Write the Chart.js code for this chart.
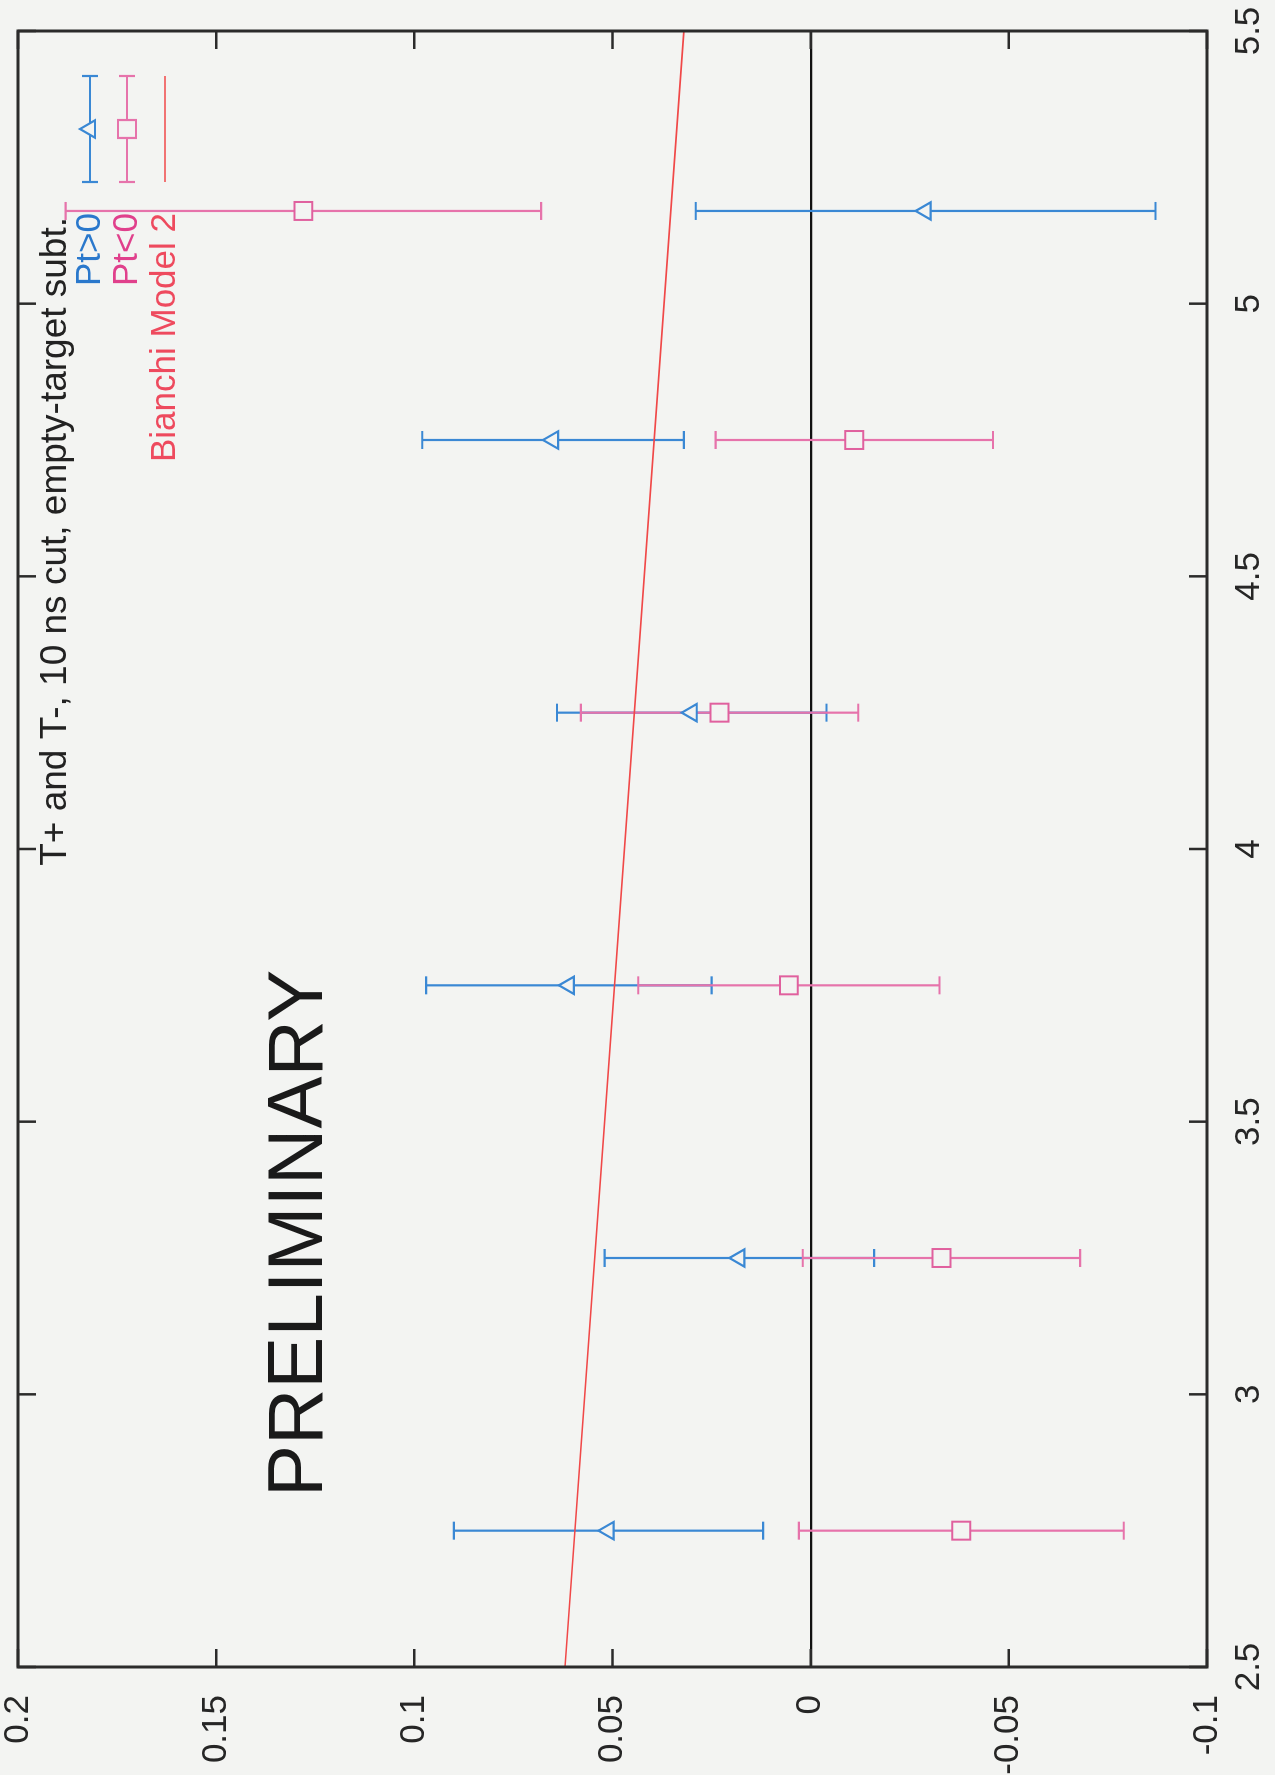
<!DOCTYPE html>
<html>
<head>
<meta charset="utf-8">
<script src="https://cdn.jsdelivr.net/npm/chart.js@4/dist/chart.umd.min.js"></script>
<style>
  html, body { margin: 0; padding: 0; width: 1275px; height: 1775px; overflow: hidden; background: #f3f4f2; }
  /* The plot is laid out landscape and turned a quarter turn to sit on the portrait page */
  #stage { position: absolute; left: 0; top: 0; width: 1775px; height: 1275px;
           transform-origin: 0 0; transform: translate(0, 1775px) rotate(-90deg); }
  canvas { display: block; }
</style>
</head>
<body>
<div id="stage"><canvas id="asym" width="1775" height="1275"></canvas></div>
<script>
// Bin centres along the horizontal axis
const binCentres = [2.75, 3.25, 3.75, 4.25, 4.75, 5.17];

// Asymmetry and statistical error, Pt > 0
const ptPosAsym = [0.051, 0.018, 0.061, 0.030, 0.065, -0.029];
const ptPosErr  = [0.039, 0.034, 0.036, 0.034, 0.033, 0.058];

// Asymmetry and statistical error, Pt < 0
const ptNegAsym = [-0.038, -0.033, 0.0055, 0.023, -0.011, 0.128];
const ptNegErr  = [0.041, 0.035, 0.038, 0.035, 0.035, 0.060];

// Model curve (straight line over the plotted range)
const modelX = [2.5, 5.5];
const modelY = [0.062, 0.032];

// Axis ticks
const xTickValues = [2.5, 3, 3.5, 4, 4.5, 5, 5.5];
const xTickLabels = ['2.5', '3', '3.5', '4', '4.5', '5', '5.5'];
const yTickValues = [-0.1, -0.05, 0, 0.05, 0.1, 0.15, 0.2];
const yTickLabels = ['-0.1', '-0.05', '0', '0.05', '0.1', '0.15', '0.2'];

const seriesNames = ['Pt>0', 'Pt<0', 'Bianchi Model 2'];
const keyTitle = 'T+ and T-, 10 ns cut, empty-target subt.';
const stampText = 'PRELIMINARY';

const FONT = "'Liberation Sans', Arial, Helvetica, sans-serif";
const BG = '#f3f4f2';
const BLUE = '#3a88d4';
const PINK = '#e673ab';
const RED = '#f04848';

function pts(xs, ys, errs) {
  return xs.map((x, i) => ({ x: x, y: ys[i], err: errs ? errs[i] : 0 }));
}

// Keep the plot box exactly where the layout padding puts it
function noScalePadding(s) {
  s.paddingTop = 0; s.paddingBottom = 0; s.paddingLeft = 0; s.paddingRight = 0;
}

// Vertical error bars with end caps, drawn under the markers
const errorBars = {
  id: 'errorBars',
  beforeDatasetsDraw(chart) {
    const { ctx, scales: { x, y } } = chart;
    ctx.save();
    chart.data.datasets.forEach(ds => {
      if (!ds.errorBars) return;
      ctx.strokeStyle = ds.barColor;
      ctx.lineWidth = 2.2;
      ds.data.forEach(p => {
        const px = x.getPixelForValue(p.x);
        const y1 = y.getPixelForValue(p.y + p.err);
        const y2 = y.getPixelForValue(p.y - p.err);
        ctx.beginPath();
        ctx.moveTo(px, y1); ctx.lineTo(px, y2);
        ctx.moveTo(px - 9, y1); ctx.lineTo(px + 9, y1);
        ctx.moveTo(px - 9, y2); ctx.lineTo(px + 9, y2);
        ctx.stroke();
      });
    });
    ctx.restore();
  }
};

// Border box with inward ticks on all four sides
const frameTicks = {
  id: 'frameTicks',
  afterDatasetsDraw(chart) {
    const { ctx, chartArea: a, scales: { x, y } } = chart;
    ctx.save();
    ctx.strokeStyle = '#2b2b2b';
    ctx.lineWidth = 2.5;
    const L = 18;
    ctx.beginPath();
    x.ticks.forEach(t => {
      const px = x.getPixelForValue(t.value);
      ctx.moveTo(px, a.bottom); ctx.lineTo(px, a.bottom - L);
      ctx.moveTo(px, a.top); ctx.lineTo(px, a.top + L);
    });
    y.ticks.forEach(t => {
      const py = y.getPixelForValue(t.value);
      ctx.moveTo(a.left, py); ctx.lineTo(a.left + L, py);
      ctx.moveTo(a.right, py); ctx.lineTo(a.right - L, py);
    });
    ctx.stroke();
    ctx.lineWidth = 3;
    ctx.strokeRect(a.left, a.top, a.right - a.left, a.bottom - a.top);
    ctx.restore();
  }
};

// Key block and the PRELIMINARY stamp
const keyAndStamp = {
  id: 'keyAndStamp',
  afterDraw(chart) {
    const { ctx } = chart;
    ctx.save();
    ctx.font = '78px ' + FONT;
    ctx.fillStyle = '#1a1a1a';
    ctx.textAlign = 'left';
    ctx.textBaseline = 'alphabetic';
    ctx.fillText(stampText, 278, 322);

    const textRight = 1558, s0 = 1593, s1 = 1699, sm = (s0 + s1) / 2;
    ctx.textAlign = 'right';
    ctx.textBaseline = 'middle';
    ctx.font = '37px ' + FONT;
    ctx.fillStyle = '#222';
    ctx.fillText(keyTitle, textRight, 56);

    ctx.font = '35px ' + FONT;
    const rows = [90, 127, 165];
    const textCols = ['#2a78cc', '#e0408c', '#ee4a5e'];
    chart.data.datasets.forEach((ds, i) => {
      const ry = rows[i];
      ctx.fillStyle = textCols[i];
      ctx.fillText(ds.label, textRight + 4, ry);
      ctx.lineWidth = ds.errorBars ? 2.2 : 1.6;
      ctx.strokeStyle = ds.errorBars ? ds.barColor : ds.borderColor;
      ctx.beginPath();
      ctx.moveTo(s0, ry); ctx.lineTo(s1, ry);
      if (ds.errorBars) {
        ctx.moveTo(s0, ry - 8); ctx.lineTo(s0, ry + 8);
        ctx.moveTo(s1, ry - 8); ctx.lineTo(s1, ry + 8);
      }
      ctx.stroke();
      if (ds.errorBars) {
        const r = ds.pointRadius;
        ctx.fillStyle = BG;
        ctx.lineWidth = 2.2;
        ctx.beginPath();
        if (ds.pointStyle === 'triangle') {
          ctx.moveTo(sm, ry - r);
          ctx.lineTo(sm + r * Math.sin(2 * Math.PI / 3), ry - r * Math.cos(2 * Math.PI / 3));
          ctx.lineTo(sm + r * Math.sin(4 * Math.PI / 3), ry - r * Math.cos(4 * Math.PI / 3));
          ctx.closePath();
        } else {
          const h = r * Math.SQRT1_2;
          ctx.rect(sm - h, ry - h, 2 * h, 2 * h);
        }
        ctx.fill(); ctx.stroke();
      }
    });
    ctx.restore();
  }
};

const paintBg = {
  id: 'paintBg',
  beforeDraw(chart) {
    const { ctx, width, height } = chart;
    ctx.save();
    ctx.fillStyle = BG;
    ctx.fillRect(0, 0, width, height);
    ctx.restore();
  }
};

new Chart(document.getElementById('asym'), {
  type: 'scatter',
  data: {
    datasets: [
      {
        label: seriesNames[0],
        data: pts(binCentres, ptPosAsym, ptPosErr),
        errorBars: true, barColor: BLUE,
        pointStyle: 'triangle', pointRadius: 10, pointHoverRadius: 10,
        borderColor: BLUE, backgroundColor: BG, borderWidth: 2.2, showLine: false
      },
      {
        label: seriesNames[1],
        data: pts(binCentres, ptNegAsym, ptNegErr),
        errorBars: true, barColor: PINK,
        pointStyle: 'rect', pointRadius: 12.7, pointHoverRadius: 12.7,
        borderColor: '#e0609e', backgroundColor: BG, borderWidth: 2, showLine: false
      },
      {
        label: seriesNames[2],
        data: pts(modelX, modelY),
        type: 'line', showLine: true, pointRadius: 0,
        borderColor: RED, borderWidth: 1.6, fill: false, tension: 0
      }
    ]
  },
  options: {
    responsive: false,
    animation: false,
    devicePixelRatio: 1,
    layout: { padding: { left: 0, right: 31, top: 18, bottom: 0 } },
    plugins: { legend: { display: false }, tooltip: { enabled: false } },
    scales: {
      x: {
        type: 'linear', min: 2.5, max: 5.5,
        afterBuildTicks: s => { s.ticks = xTickValues.map(v => ({ value: v })); },
        afterFit: s => { s.height = 68; noScalePadding(s); },
        ticks: {
          callback: v => xTickLabels[xTickValues.indexOf(v)],
          font: { size: 35, family: FONT, lineHeight: 1 },
          color: '#262626', padding: 25, maxRotation: 0, minRotation: 0, autoSkip: false
        },
        grid: { display: false, drawTicks: false },
        border: { display: false }
      },
      y: {
        type: 'linear', min: -0.1, max: 0.2,
        afterBuildTicks: s => { s.ticks = yTickValues.map(v => ({ value: v })); },
        afterFit: s => { s.width = 108; noScalePadding(s); },
        ticks: {
          callback: v => yTickLabels[yTickValues.indexOf(v)],
          font: { size: 35, family: FONT, lineHeight: 1 },
          color: '#262626', padding: 28, autoSkip: false
        },
        grid: {
          drawTicks: false,
          color: c => (c.tick && c.tick.value === 0) ? '#111111' : 'rgba(0,0,0,0)',
          lineWidth: 2.2
        },
        border: { display: false }
      }
    }
  },
  plugins: [paintBg, errorBars, frameTicks, keyAndStamp]
});
</script>
</body>
</html>
